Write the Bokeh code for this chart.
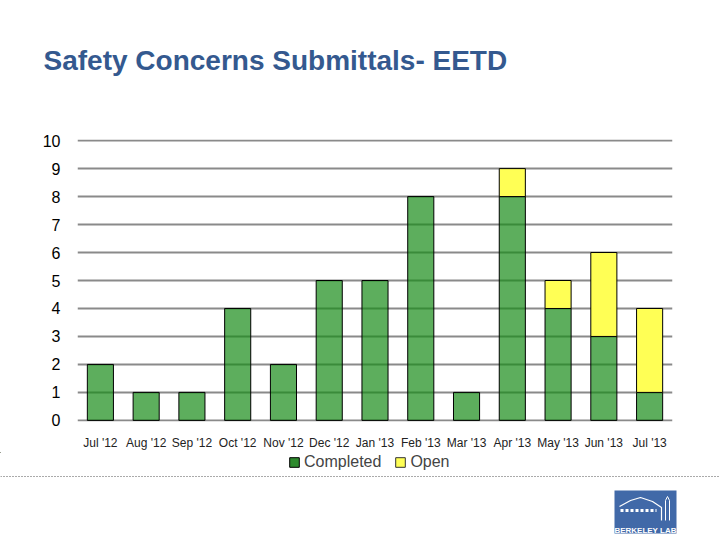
from bokeh.plotting import figure
from bokeh.models import (ColumnDataSource, FactorRange, Range1d, Legend,
                          LegendItem, FixedTicker)
from bokeh.core.properties import value
from bokeh.layouts import column
from bokeh.embed import file_html
from bokeh.resources import INLINE

months = ["Jul '12", "Aug '12", "Sep '12", "Oct '12", "Nov '12", "Dec '12",
          "Jan '13", "Feb '13", "Mar '13", "Apr '13", "May '13", "Jun '13", "Jul '13"]
completed = [2, 1, 1, 4, 2, 5, 5, 8, 1, 8, 4, 3, 1]
open_ = [0, 0, 0, 0, 0, 0, 0, 0, 0, 1, 1, 3, 3]
y_ticks = [0, 1, 2, 3, 4, 5, 6, 7, 8, 9, 10]
series = ["Completed", "Open"]
title_text = "Safety Concerns Submittals- EETD"

FONT = "Liberation Sans"
GREEN = "#188B18"
GREEN_ALPHA = 0.7
YELLOW = "#FFFF55"

# ---------- header with title ----------
h = figure(width=720, height=100, x_range=Range1d(0, 720), y_range=Range1d(100, 0),
           output_backend="svg", toolbar_location=None, x_axis_type=None,
           y_axis_type=None, min_border=0)
h.frame_align = False
h.outline_line_color = None
h.grid.visible = False
h.text(x=[43], y=[60], text=[title_text], text_font=value(FONT), text_font_size="28px",
       text_font_style="bold", text_color="#34598F", text_baseline="alphabetic")

# ---------- main chart ----------
src_c = ColumnDataSource(dict(month=months, bottom=[0] * len(completed), top=completed))
src_o = ColumnDataSource(dict(month=months, bottom=completed,
                              top=[c + o for c, o in zip(completed, open_)],
                              la=[1.0 if o > 0 else 0.0 for o in open_]))

p = figure(x_range=FactorRange(*months, range_padding=0), y_range=Range1d(-0.04, 10.04),
           width=720, height=352, output_backend="svg", toolbar_location=None,
           min_border_left=77, min_border_right=48, min_border_top=39,
           min_border_bottom=31)
p.frame_align = False
p.outline_line_color = None

p.vbar(x="month", bottom="bottom", top="top", width=0.57, source=src_c,
       fill_color=GREEN, fill_alpha=GREEN_ALPHA, line_color="black", line_width=1)
p.vbar(x="month", bottom="bottom", top="top", width=0.57, source=src_o,
       fill_color=YELLOW, line_color="black", line_alpha="la", line_width=1)

p.xgrid.grid_line_color = None
p.ygrid.grid_line_color = "#8A8A8A"
p.ygrid.grid_line_width = 2
p.yaxis.ticker = FixedTicker(ticks=y_ticks)
p.yaxis.axis_line_color = None
p.yaxis.major_tick_line_color = None
p.yaxis.minor_tick_line_color = None
p.yaxis.major_label_standoff = 11
p.yaxis.major_label_text_font = FONT
p.yaxis.major_label_text_font_size = "16px"
p.yaxis.major_label_text_color = "black"

p.xaxis.axis_line_color = None
p.xaxis.major_tick_line_color = None
p.xaxis.minor_tick_line_color = None
p.xaxis.major_label_standoff = 8
p.xaxis.major_label_text_font = FONT
p.xaxis.major_label_text_font_size = "12px"
p.xaxis.major_label_text_color = "#222222"

# ---------- footer: legend, dotted separator and logo ----------
f = figure(width=720, height=88, x_range=Range1d(0, 720), y_range=Range1d(88, 0),
           output_backend="svg", toolbar_location=None, x_axis_type=None,
           y_axis_type=None, min_border=0)
f.frame_align = False
f.outline_line_color = None
f.grid.visible = False

offscreen = ColumnDataSource(dict(x=[-1000], top=[-1000], bottom=[-2000]))
lg_c = f.vbar(x="x", top="top", bottom="bottom", width=1, source=offscreen,
              fill_color="#2E8B2E", line_color="black")
lg_o = f.vbar(x="x", top="top", bottom="bottom", width=1, source=offscreen,
              fill_color=YELLOW, line_color="#333333")
legend = Legend(items=[LegendItem(label=series[0], renderers=[lg_c]),
                       LegendItem(label=series[1], renderers=[lg_o])],
                orientation="horizontal", location=(288, 69),
                glyph_width=12, glyph_height=12, label_standoff=4, spacing=13,
                padding=0, margin=0, border_line_color=None,
                background_fill_alpha=0, label_text_font=FONT,
                label_text_font_size="16px", label_height=15)
f.add_layout(legend)

f.segment(x0=[0], y0=[24], x1=[720], y1=[24], line_color="#555555",
          line_width=1, line_dash="1 2")
f.quad(left=[614], right=[676], top=[38], bottom=[81], fill_color="#4169A8",
       line_color=None)
f.line(x=[619, 630, 640, 652, 661, 661], y=[54, 48, 45, 49, 55, 68],
       line_color="white", line_width=1.2)
f.line(x=[665, 665], y=[48, 68], line_color="white", line_width=1)
f.line(x=[669, 669], y=[48, 68], line_color="white", line_width=1)
f.line(x=[665, 667, 669], y=[48, 44, 48], line_color="white", line_width=1)
f.segment(x0=[620], y0=[58], x1=[656], y1=[58], line_color="white",
          line_width=3, line_dash="3 2")
f.text(x=[645], y=[78], text=["BERKELEY LAB"], text_font=value(FONT),
       text_font_size="8px", text_font_style="bold", text_color="white",
       text_align="center", text_baseline="alphabetic")

open("out.html", "w").write(file_html(column(h, p, f, spacing=0), INLINE))
